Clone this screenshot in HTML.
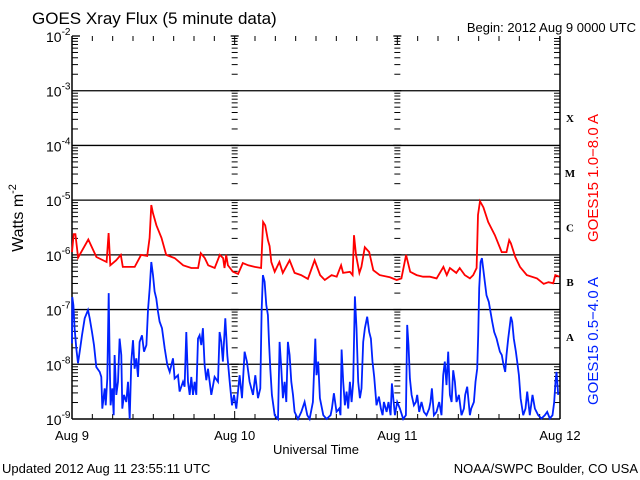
<!DOCTYPE html>
<html><head><meta charset="utf-8"><style>
html,body{margin:0;padding:0;background:#fff;}
svg{display:block;font-family:"Liberation Sans",sans-serif;}
</style></head><body>
<svg id="chart" width="640" height="480" viewBox="0 0 640 480" xmlns="http://www.w3.org/2000/svg">
<rect x="0" y="0" width="640" height="480" fill="#fff"/>
<text x="32" y="24" font-size="17" fill="#000">GOES Xray Flux (5 minute data)</text>
<text x="636" y="32" font-size="13" text-anchor="end" fill="#000">Begin:  2012 Aug 9 0000 UTC</text>
<text transform="translate(23,218) rotate(-90)" font-size="16" text-anchor="middle" fill="#000">Watts m<tspan dy="-7" font-size="11">-2</tspan></text>
<text x="316" y="454" font-size="13" text-anchor="middle" fill="#000">Universal Time</text>
<text x="2" y="473" font-size="13" fill="#000">Updated 2012 Aug 11 23:55:11 UTC</text>
<text x="638" y="473" font-size="13" text-anchor="end" fill="#000">NOAA/SWPC Boulder, CO USA</text>
<text transform="translate(598,178) rotate(-90)" font-size="15" text-anchor="middle" fill="#ff0000">GOES15 1.0−8.0 A</text>
<text transform="translate(598,341) rotate(-90)" font-size="15" text-anchor="middle" fill="#0022ff">GOES15 0.5−4.0 A</text>
<g id="axes"></g>
<g id="series"></g>
</svg>
<script>
const dayLabels = ["Aug 9","Aug 10","Aug 11","Aug 12"];
const decadeExps = [-2,-3,-4,-5,-6,-7,-8,-9];
const classLetters = ["X","M","C","B","A"];
const classExps = [-3,-4,-5,-6,-7];
const redHours = [0,0.25,0.5,0.9,2.4,3.6,5.1,5.4,5.65,6.5,7.2,7.5,9.25,10.2,11.1,11.45,11.7,11.95,12.45,13.2,13.9,15.15,16.4,17.6,18.6,19.0,19.6,20.1,21.05,21.8,22.3,22.5,22.75,23.0,23.75,24.5,25.2,26.0,26.95,27.9,28.2,28.5,28.9,29.15,29.4,29.9,30.6,31.1,32.1,32.85,33.8,34.8,35.8,36.6,37.3,38.3,39.05,39.7,40.0,41.0,41.4,41.6,41.9,42.4,42.7,43.2,43.85,44.45,45.4,46.9,47.9,48.6,49.3,49.9,50.85,51.8,52.8,53.8,54.8,55.3,55.75,56.7,57.2,57.95,58.7,59.2,59.7,59.9,60.2,60.7,61.4,62.4,63.4,64.1,64.5,64.75,65.4,66.1,67.1,68.6,69.6,70.3,71.0,71.3,71.9];
const redLog = [-5.95,-5.62,-5.62,-6.05,-5.72,-6.04,-6.13,-5.60,-6.19,-6.10,-6.0,-6.22,-6.22,-6.0,-6.02,-5.69,-5.09,-5.24,-5.46,-5.69,-6.0,-6.06,-6.19,-6.24,-6.24,-5.97,-6.06,-6.19,-6.24,-6.0,-6.06,-6.24,-6.0,-6.19,-6.31,-6.35,-6.15,-6.19,-6.22,-6.24,-5.40,-5.46,-5.73,-5.84,-6.13,-6.31,-6.13,-6.33,-6.10,-6.33,-6.37,-6.44,-6.10,-6.37,-6.46,-6.37,-6.40,-6.19,-6.33,-6.31,-6.37,-5.64,-6.0,-6.33,-6.22,-5.86,-5.95,-6.28,-6.37,-6.41,-6.46,-6.43,-6.0,-6.31,-6.37,-6.40,-6.40,-6.43,-6.22,-6.37,-6.24,-6.33,-6.24,-6.37,-6.43,-6.37,-6.24,-5.27,-5.02,-5.13,-5.40,-5.64,-5.95,-5.95,-5.73,-5.79,-6.04,-6.22,-6.37,-6.43,-6.53,-6.50,-6.52,-6.37,-6.40];
const blueHours = [0,0.05,0.2,0.39,0.64,0.89,1.13,1.48,1.87,2.36,2.61,2.95,3.25,3.59,4.08,4.33,4.47,4.82,4.97,5.21,5.41,5.56,5.70,5.95,6.15,6.29,6.54,6.79,7.03,7.28,7.42,7.67,8.01,8.26,8.51,8.75,9.00,9.24,9.49,9.74,9.98,10.33,10.62,10.97,11.21,11.46,11.70,11.95,12.19,12.44,12.69,12.93,13.28,13.67,14.06,14.41,14.90,15.14,15.64,15.88,16.37,16.62,16.87,17.11,17.36,17.60,17.85,18.09,18.34,18.59,18.83,19.08,19.32,19.57,19.82,20.06,20.55,21.04,21.54,21.78,22.03,22.27,22.62,22.91,23.26,23.60,23.90,24.24,24.73,25.08,25.47,25.81,26.21,26.70,27.04,27.44,27.78,27.98,28.17,28.42,28.67,28.91,29.06,29.26,29.50,29.90,30.39,30.63,30.88,31.12,31.37,31.62,31.86,32.11,32.35,32.60,32.85,33.34,33.83,34.32,34.71,35.06,35.55,35.89,36.08,36.33,36.58,37.07,37.56,38.15,38.35,38.64,39.03,39.43,39.62,39.77,40.02,40.26,40.51,40.75,41.00,41.25,41.49,41.74,41.98,42.23,42.48,42.72,42.97,43.21,43.56,43.85,44.10,44.34,44.59,44.93,45.28,45.57,45.82,46.02,46.41,46.70,47.00,47.20,47.64,47.98,48.38,48.87,49.26,49.46,49.65,49.85,50.10,50.44,50.74,50.93,51.23,51.57,51.92,52.31,52.70,52.90,53.10,53.39,53.78,54.18,54.52,54.77,55.01,55.26,55.51,55.75,56.00,56.24,56.49,56.73,57.08,57.47,57.82,58.01,58.31,58.70,58.90,59.29,59.54,59.78,59.93,60.08,60.28,60.47,60.67,60.91,61.16,61.50,61.75,61.99,62.29,62.64,62.88,63.13,63.42,63.67,63.91,64.11,64.36,64.55,64.75,64.95,65.19,65.49,65.68,65.93,66.18,66.57,66.91,67.16,67.55,67.95,68.29,68.78,69.27,69.77,70.11,70.50,70.90,71.14,71.34,71.49,71.73];
const blueLog = [-7.62,-6.77,-6.92,-7.34,-7.71,-7.98,-7.77,-7.47,-7.16,-7.01,-7.16,-7.41,-7.65,-8.05,-8.14,-8.23,-8.81,-8.44,-8.75,-8.26,-6.70,-7.95,-8.75,-8.44,-8.93,-7.83,-8.56,-8.32,-7.53,-7.83,-8.81,-8.56,-8.69,-8.32,-9.0,-7.95,-7.56,-8.08,-7.89,-8.23,-7.59,-7.47,-7.77,-7.65,-7.01,-6.61,-6.13,-6.37,-6.67,-6.80,-7.04,-7.22,-7.34,-7.71,-8.01,-8.14,-7.89,-8.26,-8.20,-8.50,-8.32,-8.41,-7.41,-8.32,-8.56,-8.23,-8.56,-8.32,-8.56,-7.53,-7.47,-7.65,-7.34,-8.01,-8.29,-8.08,-8.56,-8.23,-8.32,-7.41,-7.59,-7.95,-7.16,-7.83,-8.32,-8.75,-8.56,-8.81,-8.20,-8.62,-7.77,-7.95,-8.32,-8.56,-8.20,-8.62,-8.44,-7.04,-6.37,-6.49,-6.92,-7.10,-7.59,-8.08,-8.56,-8.93,-9.0,-7.59,-8.08,-8.62,-8.32,-8.69,-7.59,-7.83,-8.32,-8.56,-8.87,-9.0,-8.87,-8.69,-8.93,-9.0,-8.69,-7.53,-8.20,-7.95,-8.62,-8.93,-9.0,-8.93,-8.81,-8.53,-8.87,-8.81,-8.93,-7.73,-8.32,-8.75,-8.50,-8.81,-8.32,-8.69,-8.32,-6.76,-7.34,-8.32,-8.62,-8.44,-7.59,-7.34,-7.13,-7.41,-7.53,-7.95,-8.23,-8.75,-8.59,-8.81,-8.93,-8.69,-8.87,-8.69,-8.93,-8.35,-8.93,-8.69,-8.81,-9.0,-8.93,-7.28,-7.65,-8.26,-8.56,-8.75,-8.69,-8.56,-8.87,-8.69,-8.87,-8.93,-8.81,-8.69,-8.44,-8.93,-8.87,-8.69,-8.93,-8.20,-7.95,-8.38,-7.77,-8.56,-8.69,-8.11,-8.32,-8.69,-8.56,-8.93,-8.81,-8.56,-8.41,-8.93,-8.81,-8.69,-8.32,-8.08,-7.47,-6.61,-6.13,-6.06,-6.25,-6.49,-6.74,-6.86,-7.04,-7.22,-7.41,-7.53,-7.65,-7.77,-7.83,-8.01,-8.14,-7.83,-7.53,-7.34,-7.13,-7.22,-7.53,-7.77,-7.95,-8.20,-8.62,-8.93,-8.81,-8.50,-8.93,-8.56,-8.81,-8.93,-8.99,-8.93,-8.87,-8.99,-8.93,-8.69,-8.32,-8.14,-8.56,-8.44];

const NS="http://www.w3.org/2000/svg";
const X0=72, X1=560, YTOP=36, YBOT=419, TOTAL_H=72;
function xScale(h){return X0+(X1-X0)*h/TOTAL_H;}
function yScale(lg){return YTOP+(-2-lg)*(YBOT-YTOP)/7;}
function mk(tag,attrs,parent){const e=document.createElementNS(NS,tag);for(const k in attrs)e.setAttribute(k,attrs[k]);parent.appendChild(e);return e;}
const axes=document.getElementById('axes'), series=document.getElementById('series');

let e;
e=mk('line',{x1:X0,y1:YTOP,x2:X0,y2:YBOT,stroke:'#000','stroke-width':1.5},axes);


e=mk('line',{x1:X1,y1:YTOP,x2:X1,y2:YBOT,stroke:'#000','stroke-width':1.5},axes);


e=mk('line',{x1:X0,y1:YBOT,x2:X1,y2:YBOT,stroke:'#000','stroke-width':1.5},axes);



decadeExps.forEach(function(ex){
  const y=yScale(ex);
  if(ex<-2&&ex>-9){
    e=mk('line',{x1:X0,y1:y,x2:X1,y2:y,stroke:'#000','stroke-width':1.3},axes);
    
    
  } else if(ex===-2){
    mk('line',{x1:X0,y1:y,x2:X0+8,y2:y,stroke:'#000','stroke-width':1.3},axes);
  }
  const t=mk('text',{x:X0-26,y:y+6,'font-size':14,fill:'#000'},axes);
  
  
  t.textContent='10';
  const s=mk('tspan',{dy:-7,'font-size':10},t);s.textContent=String(ex);
  if(ex>-9){
    for(let m=2;m<=9;m++){
      const yy=yScale(ex-1+Math.log10(m));
      mk('line',{x1:X0,y1:yy,x2:X0+6,y2:yy,stroke:'#000','stroke-width':1},axes);
      mk('line',{x1:X1-6,y1:yy,x2:X1,y2:yy,stroke:'#000','stroke-width':1},axes);
      [1,2].forEach(function(d){const xd=xScale(d*24);mk('line',{x1:xd-3,y1:yy,x2:xd+3,y2:yy,stroke:'#000','stroke-width':1},axes);});
    }
  }
});
[1,2].forEach(function(d){decadeExps.forEach(function(ex){const y=yScale(ex);const xd=xScale(d*24);mk('line',{x1:xd-4,y1:y,x2:xd+4,y2:y,stroke:'#000','stroke-width':1.3},axes);});});

for(let h=0;h<=TOTAL_H;h+=3){
  const x=xScale(h);
  const len=(h%24===0)?8:5;
  mk('line',{x1:x,y1:YBOT,x2:x,y2:YBOT-len,stroke:'#000','stroke-width':1},axes);
  mk('line',{x1:x,y1:YTOP,x2:x,y2:YTOP+len,stroke:'#000','stroke-width':1},axes);
}
dayLabels.forEach(function(lab,i){
  const t=mk('text',{x:xScale(i*24),y:440,'font-size':13,'text-anchor':'middle',fill:'#000'},axes);
  
  
  t.textContent=lab;
});
classLetters.forEach(function(c,i){
  const t=mk('text',{x:570,y:yScale(classExps[i]-0.5)+4,'font-size':11,'font-weight':'bold','font-family':'Liberation Serif, serif','text-anchor':'middle',fill:'#000'},axes);
  
  
  t.textContent=c;
});

function linePath(hours,vals){
  let d='';
  for(let i=0;i<hours.length;i++){
    const x=xScale(hours[i]).toFixed(1);
    const y=yScale(Math.max(-9,vals[i])).toFixed(1);
    d+=(i===0?'M':' L')+x+' '+y;
  }
  return d;
}
e=mk('path',{d:linePath(blueHours,blueLog),fill:'none',stroke:'#0022ff','stroke-width':1.8,'stroke-linejoin':'miter'},series);


e=mk('path',{d:linePath(redHours,redLog),fill:'none',stroke:'#ff0000','stroke-width':1.8,'stroke-linejoin':'miter'},series);


</script>
</body></html>
